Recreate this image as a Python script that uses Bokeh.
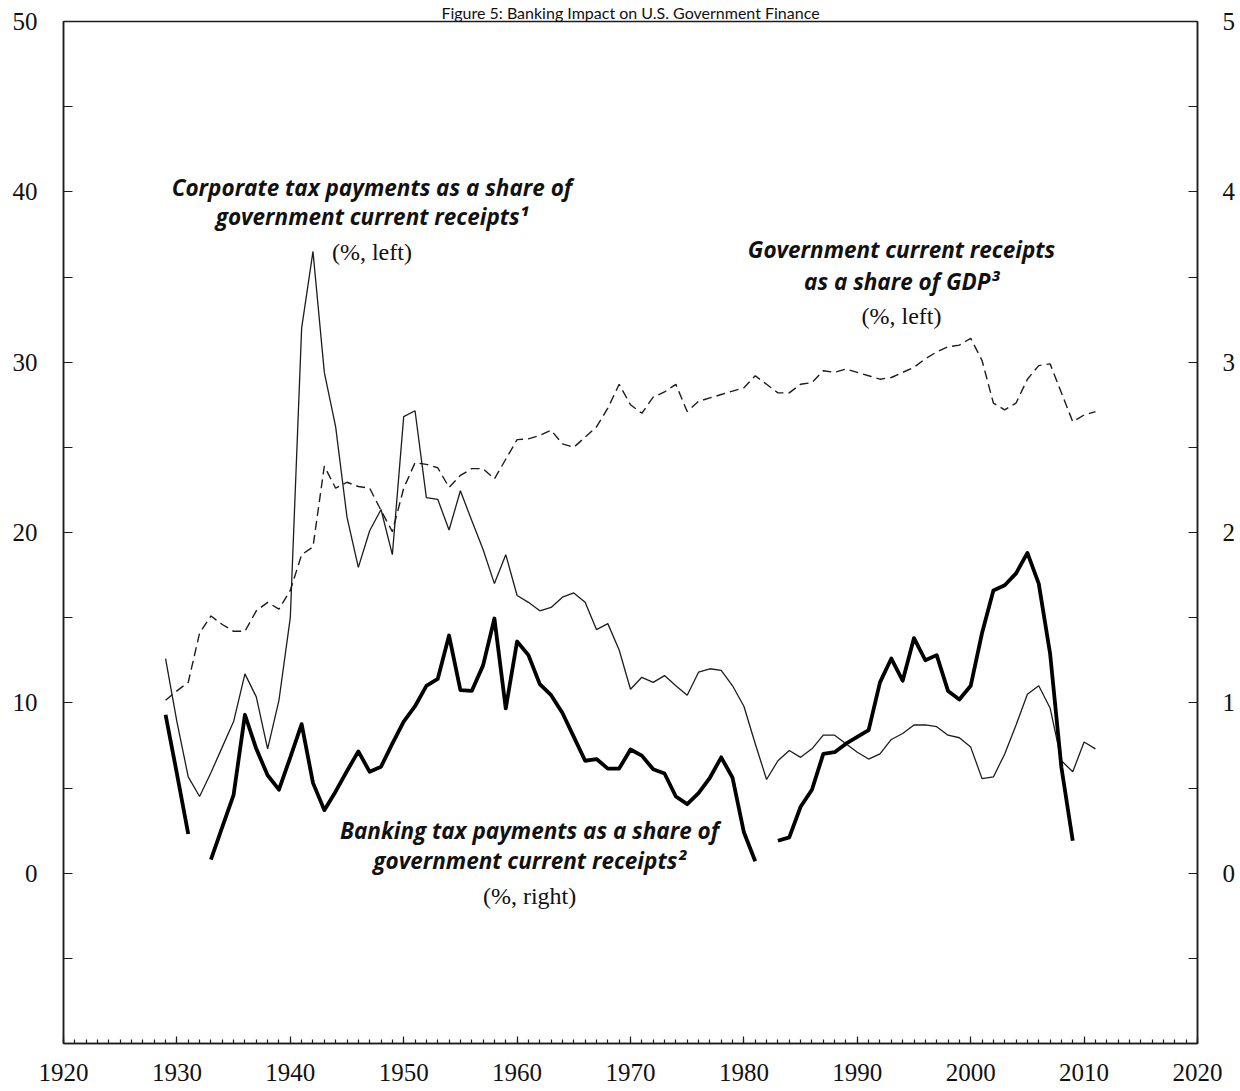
import math
from bokeh.plotting import figure
from bokeh.models import (Range1d, LinearAxis, FixedTicker, Label, ColumnDataSource)
from bokeh.embed import file_html
from bokeh.resources import INLINE

NaN = float("nan")

years = list(range(1929, 2012))

corporate = [
    12.6, 8.9, 5.65, 4.5, 5.9, 7.4, 8.9, 11.7, 10.35, 7.3,          # 1929-1938
    10.15, 15.0, 32.0, 36.5, 29.4, 26.2, 20.9, 17.95, 20.1, 21.35,  # 1939-1948
    18.7, 26.8, 27.15, 22.05, 21.95, 20.15, 22.45, 20.7, 19.0, 17.0,  # 1949-1958
    18.7, 16.3, 15.9, 15.4, 15.6, 16.2, 16.45, 15.9, 14.3, 14.65,   # 1959-1968
    13.1, 10.8, 11.5, 11.2, 11.6, 11.0, 10.45, 11.8, 12.0, 11.9,    # 1969-1978
    11.0, 9.8, 7.6, 5.5, 6.6, 7.2, 6.8, 7.3, 8.1, 8.1,              # 1979-1988
    7.6, 7.1, 6.7, 7.0, 7.85, 8.2, 8.7, 8.7, 8.6, 8.1,              # 1989-1998
    7.95, 7.4, 5.55, 5.65, 7.0, 8.7, 10.5, 11.0, 9.7, 6.6,          # 1999-2008
    5.95, 7.7, 7.3,                                                 # 2009-2011
]

receipts_gdp = [
    10.15, 10.7, 11.2, 14.1, 15.1, 14.6, 14.2, 14.2, 15.4, 15.9,    # 1929-1938
    15.5, 16.6, 18.7, 19.15, 23.9, 22.6, 22.95, 22.7, 22.6, 21.3,   # 1939-1948
    20.05, 22.6, 24.1, 24.0, 23.8, 22.65, 23.35, 23.75, 23.75, 23.15,  # 1949-1958
    24.3, 25.45, 25.5, 25.7, 26.0, 25.2, 25.0, 25.6, 26.2, 27.3,    # 1959-1968
    28.7, 27.5, 27.0, 27.95, 28.25, 28.7, 27.1, 27.7, 27.9, 28.1,   # 1969-1978
    28.3, 28.5, 29.2, 28.7, 28.2, 28.2, 28.7, 28.8, 29.5, 29.4,     # 1979-1988
    29.6, 29.4, 29.2, 29.0, 29.1, 29.4, 29.7, 30.2, 30.6, 30.9,     # 1989-1998
    31.0, 31.4, 30.1, 27.6, 27.2, 27.6, 29.0, 29.8, 29.9, 28.2,     # 1999-2008
    26.5, 26.9, 27.1,                                               # 2009-2011
]

banking = [
    0.93, 0.585, 0.23, NaN, 0.08, 0.27, 0.46, 0.93, 0.73, 0.575,    # 1929-1938
    0.49, 0.68, 0.875, 0.53, 0.37, 0.48, 0.60, 0.715, 0.595, 0.625,  # 1939-1948
    0.76, 0.89, 0.98, 1.10, 1.14, 1.395, 1.075, 1.07, 1.22, 1.495,   # 1949-1958
    0.967, 1.36, 1.28, 1.11, 1.045, 0.94, 0.80, 0.66, 0.67, 0.614,   # 1959-1968
    0.614, 0.726, 0.69, 0.61, 0.585, 0.45, 0.405, 0.47, 0.56, 0.68,  # 1969-1978
    0.56, 0.24, 0.07, NaN, 0.19, 0.21, 0.39, 0.49, 0.70, 0.71,       # 1979-1988
    0.76, 0.80, 0.84, 1.12, 1.26, 1.13, 1.38, 1.25, 1.28, 1.07,      # 1989-1998
    1.02, 1.10, 1.41, 1.66, 1.69, 1.76, 1.88, 1.70, 1.29, 0.62,      # 1999-2008
    0.19, NaN, NaN,                                                  # 2009-2011
]

x_ticks = list(range(1920, 2021, 10))
x_minor = list(range(1920, 2021))
left_ticks = [0, 10, 20, 30, 40, 50]
left_minor = [-10, -5, 5, 15, 25, 35, 45]
right_ticks = [0, 1, 2, 3, 4, 5]
right_minor = [-1, -0.5, 0.5, 1.5, 2.5, 3.5, 4.5]

title_text = "Figure 5: Banking Impact on U.S. Government Finance"
corp_label = ["Corporate tax payments as a share of", "government current receipts\u00b9", "(%, left)"]
gov_label = ["Government current receipts", "as a share of GDP\u00b3", "(%, left)"]
bank_label = ["Banking tax payments as a share of", "government current receipts\u00b2", "(%, right)"]

src = ColumnDataSource(dict(year=years, corp=corporate, gov=receipts_gdp, bank=banking))

INK = "#1c1c1c"
SERIF = "Liberation Serif"
SANS = "Open Sans"

p = figure(width=1238, height=1091, output_backend="svg", toolbar_location=None,
           x_range=Range1d(1920, 2020), y_range=Range1d(-10, 50),
           min_border_left=63, min_border_right=40, min_border_top=21, min_border_bottom=48,
           background_fill_color="white", border_fill_color="white")
p.extra_y_ranges = {"right": Range1d(-1, 5)}
p.xgrid.visible = False
p.ygrid.visible = False
p.outline_line_color = INK
p.outline_line_width = 1.5

p.title.text = title_text
p.title.text_font = "Lato"
p.title.text_font_size = "16px"
p.title.text_font_style = "normal"
p.title.text_color = "#111111"
p.title.align = "center"
p.title.offset = 22
p.title.standoff = 0

def style_axis(ax, tick_in, minor_in, standoff):
    ax.axis_line_color = INK
    ax.axis_line_width = 1.5
    ax.major_tick_line_color = INK
    ax.minor_tick_line_color = INK
    ax.major_tick_line_width = 1.2
    ax.minor_tick_line_width = 1.2
    ax.major_tick_in = tick_in
    ax.major_tick_out = 0
    ax.minor_tick_in = minor_in
    ax.minor_tick_out = 0
    ax.major_label_text_font = SERIF
    ax.major_label_text_font_size = "25px"
    ax.major_label_text_color = "#111111"
    ax.major_label_standoff = standoff

xa = p.xaxis[0]
xa.ticker = FixedTicker(ticks=x_ticks, minor_ticks=x_minor)
style_axis(xa, 7, 4, 20)

ya = p.yaxis[0]
ya.ticker = FixedTicker(ticks=left_ticks, minor_ticks=left_minor)
style_axis(ya, 9, 9, 26)

ra = LinearAxis(y_range_name="right", ticker=FixedTicker(ticks=right_ticks, minor_ticks=right_minor))
style_axis(ra, 9, 9, 25)
p.add_layout(ra, "right")

p.line("year", "gov", source=src, line_color=INK, line_width=1.4, line_dash="9 5")
p.line("year", "corp", source=src, line_color=INK, line_width=1.3)
p.line("year", "bank", source=src, y_range_name="right", line_color="black", line_width=3.8,
       line_join="round")

def add_block(lines, cx, ys, sizes, fonts, styles):
    for t, y, s, f, st in zip(lines, ys, sizes, fonts, styles):
        p.add_layout(Label(x=cx, y=y, text=t, text_align="center", text_baseline="middle",
                           text_font=f, text_font_size=s, text_font_style=st, text_color="#111111"))

add_block(corp_label, 1947.2, [40.25, 38.55, 36.45], ["22.5px", "22.5px", "24px"],
          [SANS, SANS, SERIF], ["bold italic", "bold italic", "normal"])
add_block(gov_label, 1993.9, [36.6, 34.72, 32.7], ["22.5px", "22.5px", "24px"],
          [SANS, SANS, SERIF], ["bold italic", "bold italic", "normal"])
add_block(bank_label, 1961.1, [2.5, 0.73, -1.33], ["22.5px", "22.5px", "24px"],
          [SANS, SANS, SERIF], ["bold italic", "bold italic", "normal"])

open("out.html", "w").write(file_html(p, INLINE))
